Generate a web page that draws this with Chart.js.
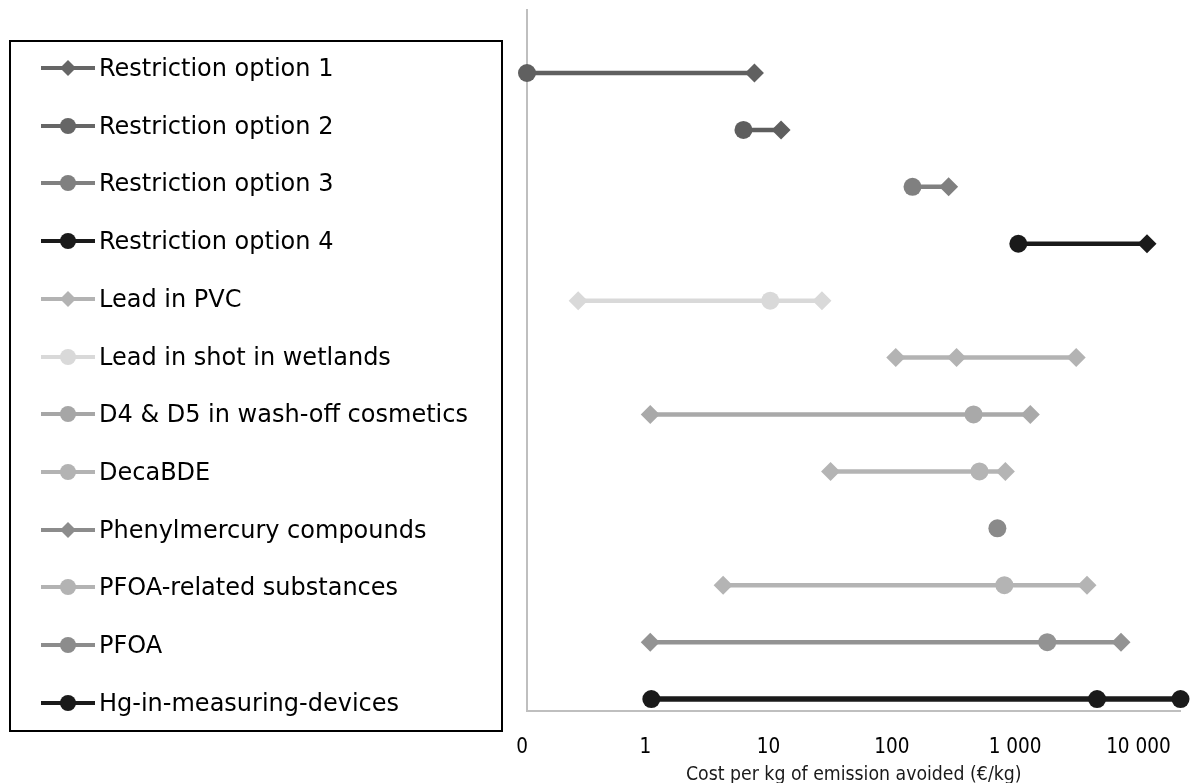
<!DOCTYPE html>
<html>
<head>
<meta charset="utf-8">
<script src="https://cdn.jsdelivr.net/npm/chart.js@4"></script>
<style>
  html, body { margin: 0; padding: 0; background: #fff; }
  #wrap { position: relative; width: 1190px; height: 783px; overflow: hidden; }
  #c { position: absolute; left: 0; top: 0; }
  #legend { position: absolute; left: 9px; top: 40px; width: 490px; height: 688px;
            border: 2px solid #000; box-sizing: content-box; }
  .item { position: absolute; left: 0; height: 30px; display: flex; align-items: center;
          font-family: "DejaVu Sans", Verdana, sans-serif; font-size: 24px; color: #000; white-space: nowrap; }
  .item svg { margin-left: 30px; margin-right: 4px; }
</style>
</head>
<body>
<div id="wrap">
  <canvas id="c" width="1190" height="783"></canvas>
  <div id="legend"></div>
</div>
<script>
// ---- data ----
const seriesNames = [
  "Restriction option 1",
  "Restriction option 2",
  "Restriction option 3",
  "Restriction option 4",
  "Lead in PVC",
  "Lead in shot in wetlands",
  "D4 & D5 in wash-off cosmetics",
  "DecaBDE",
  "Phenylmercury compounds",
  "PFOA-related substances",
  "PFOA",
  "Hg-in-measuring-devices"
];
const lowValues     = [0.1, 5.7, 134, 967, 0.26, 98, 1.0, 29, null, 3.9, 1.0, 1.02];
const centralValues = [null, null, null, null, 9.4, 305, 419, 468, 654, 745, 1660, 4210];
const highValues    = [7.0, 11.5, 263, 10700, 24.7, 2850, 1210, 759, null, 3490, 6580, 20000];
const tickValues = [0.1, 1, 10, 100, 1000, 10000];
const tickLabels = ["0", "1", "10", "100", "1 000", "10 000"];
const axisTitle = "Cost per kg of emission avoided (€/kg)";

// ---- styles ----
const lowMarker     = ['circle','circle','circle','circle','rectRot','rectRot','rectRot','rectRot',null,'rectRot','rectRot','circle'];
const centralMarker = [null,null,null,null,'circle','rectRot','circle','circle','circle','circle','circle','circle'];
const highMarker    = ['rectRot','rectRot','rectRot','rectRot','rectRot','rectRot','rectRot','rectRot',null,'rectRot','rectRot','circle'];
const rowColors = ['#606060','#5e5e5e','#808080','#1a1a1a','#d9d9d9','#b3b3b3','#a9a9a9','#b4b4b4','#8a8a8a','#b4b4b4','#939393','#1a1a1a'];
const rowWidths = [4.5,4.5,4.5,4.5,4.5,4.5,4.5,4.5,4.5,4.5,4.5,5.5];
const legendColors  = ['#666666','#666666','#808080','#1a1a1a','#b3b3b3','#d9d9d9','#a6a6a6','#b3b3b3','#8c8c8c','#b3b3b3','#8c8c8c','#1a1a1a'];
const legendMarkers = ['diamond','circle','circle','circle','diamond','circle','circle','circle','diamond','circle','circle','circle'];

// ---- datasets ----
const datasets = seriesNames.map((name, i) => {
  const pts = [], styles = [], radii = [];
  [[lowValues[i], lowMarker[i]], [centralValues[i], centralMarker[i]], [highValues[i], highMarker[i]]].forEach(([v, m]) => {
    if (v !== null && v !== undefined) {
      pts.push({ x: v, y: i });
      styles.push(m);
      radii.push(m === 'circle' ? 9 : 9.5);
    }
  });
  return {
    label: name,
    data: pts,
    showLine: true,
    borderColor: rowColors[i],
    backgroundColor: rowColors[i],
    borderWidth: rowWidths[i],
    pointStyle: styles,
    pointRadius: radii,
    pointBorderWidth: 0,
    pointBackgroundColor: rowColors[i],
    pointBorderColor: rowColors[i],
    clip: false
  };
});

const tickFont = { family: "'DejaVu Sans Condensed', 'Liberation Sans Narrow', 'DejaVu Sans', sans-serif", size: 20.5 };
const titleFont = { family: "'DejaVu Sans Condensed', 'Liberation Sans Narrow', 'DejaVu Sans', sans-serif", size: 19.3 };

new Chart(document.getElementById('c'), {
  type: 'scatter',
  data: { datasets },
  options: {
    responsive: false,
    animation: false,
    layout: { padding: { left: 527, top: 10, right: 7, bottom: 0 } },
    plugins: { legend: { display: false }, tooltip: { enabled: false } },
    scales: {
      x: {
        type: 'logarithmic',
        position: 'bottom',
        min: tickValues[0],
        max: 20000,
        grid: { display: false, drawTicks: false },
        border: { display: true, color: '#bfbfbf', width: 2 },
        afterBuildTicks: (axis) => { axis.ticks = tickValues.map(v => ({ value: v })); },
        afterFit: (scale) => { scale.height = 72; scale.paddingLeft = 0; scale.paddingRight = 0; },
        ticks: {
          autoSkip: false, maxRotation: 0, minRotation: 0,
          padding: 24, labelOffset: -5,
          color: '#000', font: tickFont,
          callback: (v) => { const k = tickValues.indexOf(v); return k >= 0 ? tickLabels[k] : ''; }
        },
        title: { display: true, text: axisTitle, color: '#1a1a1a', font: titleFont, padding: { top: -4, bottom: -4 } }
      },
      y: {
        type: 'linear',
        reverse: true,
        min: -1.107,
        max: 11.21,
        grid: { display: false, drawTicks: false },
        ticks: { display: false },
        border: { display: true, color: '#bfbfbf', width: 2 }
      }
    }
  }
});

// ---- legend (HTML) ----
const legend = document.getElementById('legend');
seriesNames.forEach((name, i) => {
  const div = document.createElement('div');
  div.className = 'item';
  div.style.top = (68 + 57.7 * i - 40 - 2 - 15) + 'px';
  const c = legendColors[i];
  let marker;
  if (legendMarkers[i] === 'diamond') {
    marker = `<polygon points="27,7 35,15 27,23 19,15" fill="${c}"/>`;
  } else {
    marker = `<circle cx="27" cy="15" r="8" fill="${c}"/>`;
  }
  div.innerHTML = `<svg width="54" height="30" viewBox="0 0 54 30"><line x1="0" y1="15" x2="54" y2="15" stroke="${c}" stroke-width="4"/>${marker}</svg><span>${name.replace(/&/g,'&amp;')}</span>`;
  legend.appendChild(div);
});
</script>
</body>
</html>
